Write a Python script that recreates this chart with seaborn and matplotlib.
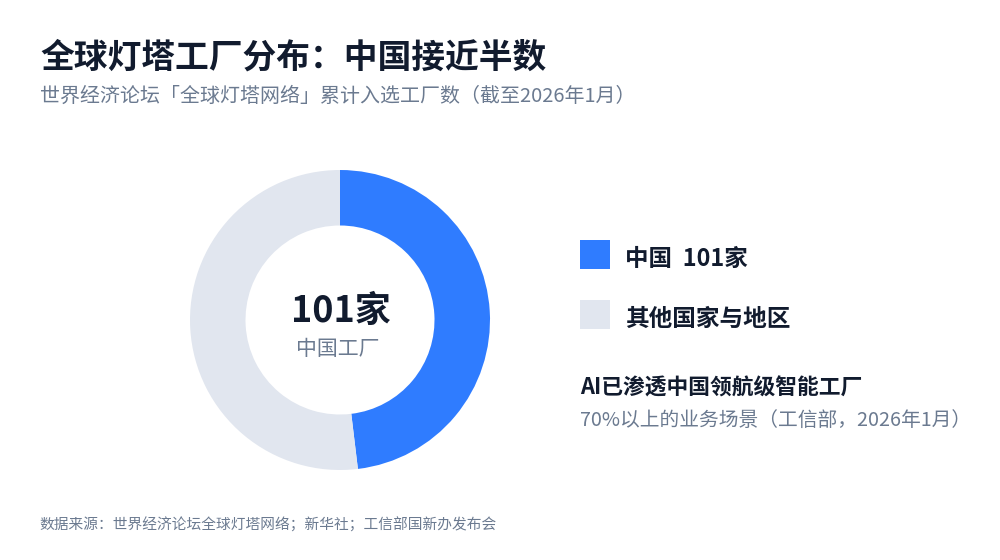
import matplotlib
matplotlib.use("Agg")
import matplotlib.pyplot as plt
from matplotlib.patches import Rectangle
import seaborn as sns

# Data
categories = ["中国", "其他国家与地区"]
counts = [101, 109]
colors = ["#2F7CFF", "#E1E6EF"]

title = "全球灯塔工厂分布：中国接近半数"
subtitle = "世界经济论坛「全球灯塔网络」累计入选工厂数（截至2026年1月）"
center_value = "101家"
center_label = "中国工厂"
legend_labels = ["中国  101家", "其他国家与地区"]
note_title = "AI已渗透中国领航级智能工厂"
note_text = "70%以上的业务场景（工信部，2026年1月）"
source = "数据来源：世界经济论坛全球灯塔网络；新华社；工信部国新办发布会"

DARK = "#111B2E"
GREY = "#6B7A90"

sns.set_theme(style="white")
plt.rcParams['font.family'] = ['Noto Sans CJK SC', 'DejaVu Sans']

W, H = 1000, 560
fig = plt.figure(figsize=(W / 100, H / 100), dpi=100)
fig.patch.set_facecolor("white")
renderer = fig.canvas.get_renderer()


def px(x, y):
    # pixel coords (from top-left) -> figure fraction
    return x / W, 1 - y / H


def fit(t, width_px):
    # scale font so the text spans the width measured on the reference
    w = t.get_window_extent(renderer=renderer).width
    t.set_fontsize(t.get_fontsize() * width_px / w)
    return t


def label(x, y, s, width_px, bold=False, color=DARK, ha="left"):
    t = fig.text(*px(x, y), s, ha=ha, va="center", fontsize=14,
                 fontweight="bold" if bold else "normal", color=color)
    return fit(t, width_px)


# Donut
cx, cy, r = 340, 320, 150
ax = fig.add_axes([(cx - r) / W, (H - cy - r) / H, 2 * r / W, 2 * r / H])
ax.pie(counts, colors=colors, startangle=90, counterclock=False,
       radius=1.0, wedgeprops=dict(width=0.37, linewidth=0))
ax.set_xlim(-1, 1)
ax.set_ylim(-1, 1)
ax.set_aspect("equal")
ax.axis("off")

label(341, 311, center_value, 100, bold=True, ha="center")
label(338, 349, center_label, 84, color=GREY, ha="center")

# Titles
label(40, 57, title, 508, bold=True)
label(40, 96, subtitle, 597, color=GREY)

# Legend
legend_w = [123, 166]
for i, (lab, col) in enumerate(zip(legend_labels, colors)):
    top = 240 + i * 60
    x0, y0 = px(580, top + 29)
    fig.patches.append(Rectangle((x0, y0), 30 / W, 29 / H, transform=fig.transFigure,
                                 facecolor=col, edgecolor="none"))
    label(625, top + 19, lab, legend_w[i], bold=True)

# Note
label(580, 388, note_title, 283, bold=True)
label(580, 420, note_text, 392, color=GREY)

# Source
label(39, 525, source, 458, color=GREY)

fig.savefig("out.png", dpi=100, facecolor="white")
